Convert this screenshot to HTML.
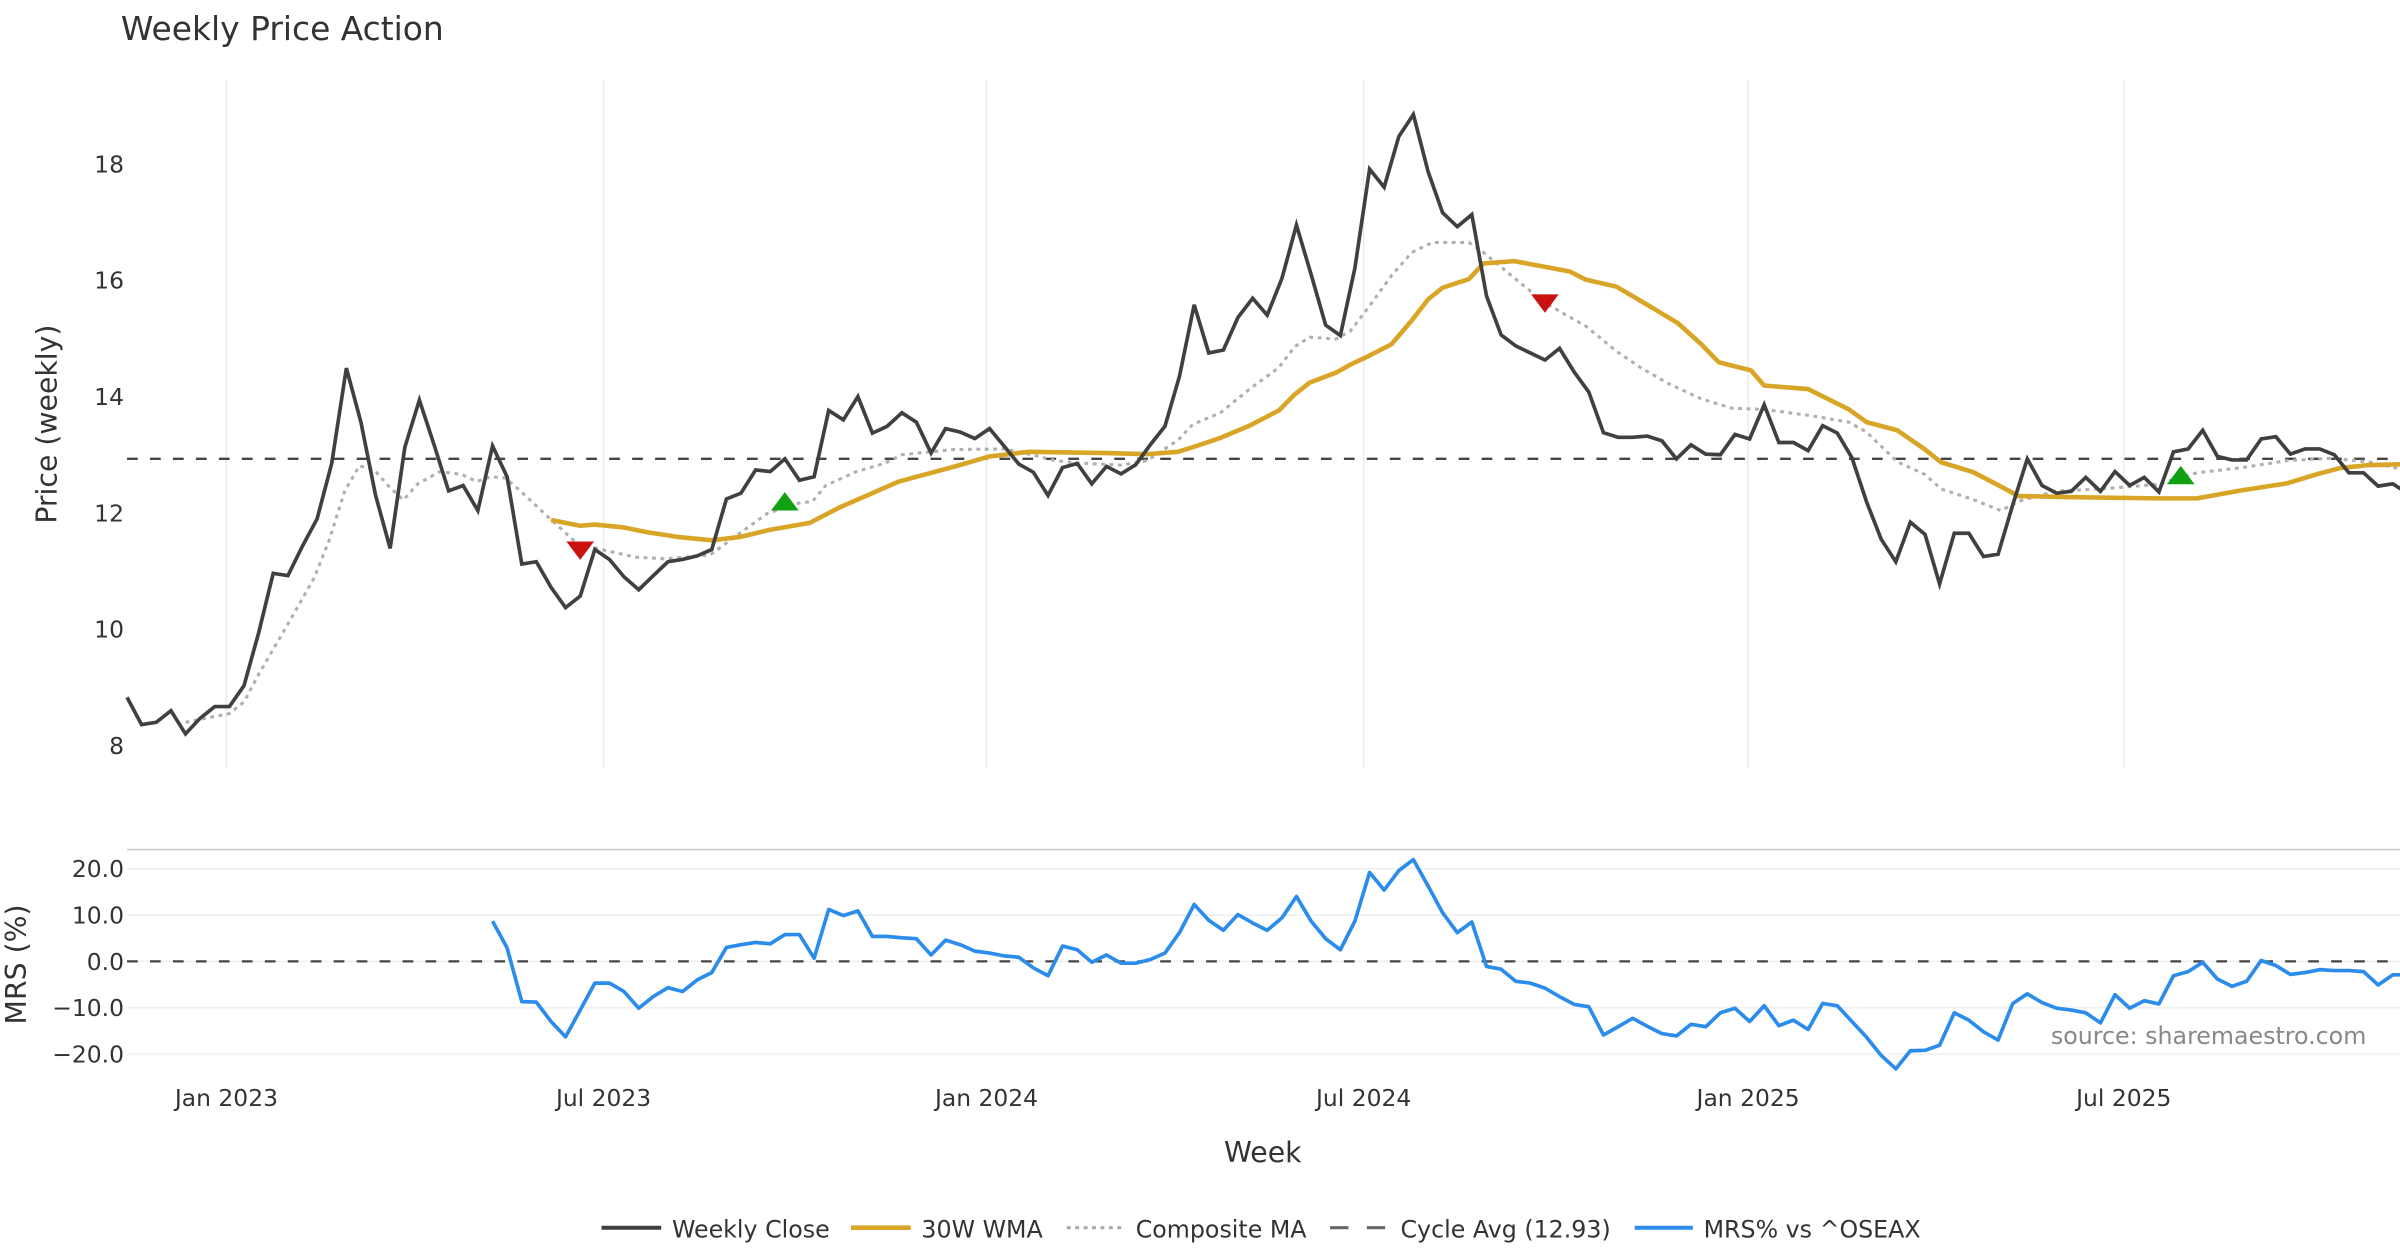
<!DOCTYPE html>
<html><head><meta charset="utf-8"><style>
html,body{margin:0;padding:0;background:#fff;}
svg{display:block;font-family:"DejaVu Sans","Liberation Sans",sans-serif;}
</style></head><body>
<svg id="chart" width="2400" height="1260" viewBox="0 0 1568 823" xmlns="http://www.w3.org/2000/svg">
<text x="79" y="26" font-size="21.5" fill="#333">Weekly Price Action</text>
<g id="grid"></g>
<g id="series"></g>
<text transform="translate(37,277) rotate(-90)" text-anchor="middle" font-size="18.5" fill="#333">Price (weekly)</text>
<text transform="translate(17,630) rotate(-90)" text-anchor="middle" font-size="18.5" fill="#333">MRS (%)</text>
<text x="825" y="759" text-anchor="middle" font-size="18.5" fill="#333">Week</text>
<text x="1546" y="682" text-anchor="end" font-size="15.5" fill="#888">source: sharemaestro.com</text>
<g id="legend">
 <line x1="393" y1="802" x2="432" y2="802" stroke="#404040" stroke-width="2.6"/>
 <text x="439" y="808.5" font-size="15.5" fill="#333">Weekly Close</text>
 <line x1="556" y1="802" x2="595" y2="802" stroke="#d9a527" stroke-width="3"/>
 <text x="602" y="808.5" font-size="15.5" fill="#333">30W WMA</text>
 <line x1="697" y1="802" x2="735" y2="802" stroke="#aaa" stroke-width="2" stroke-dasharray="2.5,3"/>
 <text x="742" y="808.5" font-size="15.5" fill="#333">Composite MA</text>
 <line x1="869" y1="802" x2="881" y2="802" stroke="#666" stroke-width="2"/>
 <line x1="893" y1="802" x2="905" y2="802" stroke="#666" stroke-width="2"/>
 <text x="915" y="808.5" font-size="15.5" fill="#333">Cycle Avg (12.93)</text>
 <line x1="1068" y1="802" x2="1106" y2="802" stroke="#2b8ceb" stroke-width="2.6"/>
 <text x="1113" y="808.5" font-size="15.5" fill="#333">MRS% vs ^OSEAX</text>
</g>
</svg>
<script>
const closeValues=[8.83,8.36,8.4,8.6,8.2,8.47,8.67,8.67,9.03,9.93,10.96,10.92,11.43,11.9,12.85,14.49,13.56,12.3,11.39,13.13,13.94,13.17,12.38,12.47,12.04,13.15,12.62,11.12,11.16,10.72,10.37,10.57,11.37,11.2,10.9,10.68,10.92,11.16,11.2,11.26,11.37,12.24,12.34,12.74,12.71,12.93,12.56,12.62,13.76,13.6,14.0,13.37,13.49,13.72,
13.56,13.03,13.45,13.39,13.28,13.45,13.15,12.84,12.7,12.3,12.78,12.85,12.5,12.8,12.67,12.83,13.17,13.49,14.35,15.58,14.75,14.8,15.36,15.69,15.4,16.03,16.95,16.1,15.23,15.05,16.21,17.91,17.6,18.47,18.85,17.87,17.16,16.92,17.13,15.73,15.06,14.87,14.75,14.63,14.83,14.42,14.08,13.38,13.3,13.3,13.32,13.24,12.93,13.17,13.01,
13.0,13.35,13.27,13.86,13.21,13.21,13.07,13.5,13.37,12.95,12.19,11.55,11.16,11.84,11.63,10.78,11.65,11.65,11.25,11.29,12.14,12.93,12.47,12.34,12.37,12.61,12.37,12.71,12.47,12.61,12.36,13.05,13.1,13.42,12.97,12.91,12.91,13.27,13.31,13.01,13.1,13.1,13.0,12.69,12.69,12.46,12.5,12.34];
const wmaWeeks=[29,31,32,34,35.5,37.6,40,42,44,46.7,48.8,51,52.8,54,56.5,59,61.7,67,69.8,71.9,72.9,74.8,76.7,78.8,79.9,80.9,82.7,83.7,84.8,86.5,87.9,89,90,91.8,92.8,94.9,96.6,98.7,99.8,101.9,104,106.1,107.7,108.9,111.1,112,115,117.8,119,121.1,123,124.1,126.3,128,129.4,133.1,138.9,141.6,144.7,147.8,149.9,151.4,153.3,156];
const wmaValues=[11.88,11.78,11.8,11.75,11.67,11.59,11.53,11.59,11.71,11.83,12.1,12.34,12.54,12.62,12.79,12.97,13.05,13.03,13.01,13.05,13.13,13.29,13.49,13.76,14.04,14.24,14.41,14.55,14.68,14.9,15.31,15.67,15.87,16.02,16.29,16.33,16.25,16.15,16.01,15.89,15.58,15.26,14.9,14.59,14.45,14.19,14.13,13.78,13.56,13.42,13.09,12.87,12.7,12.48,12.29,12.27,12.25,12.25,12.39,12.51,12.67,12.77,12.82,12.84,12.81];
const compWeeks=[4,7,8,9,11,12.8,13.8,14.9,15.9,16.9,17.9,18.9,19.9,21.4,22.9,23.9,24.9,25.9,26.9,28.9,30.8,32.8,34.8,36.8,39.9,41.8,43.8,45.8,46.9,47.8,49.9,51.8,53,56.5,60,61.4,63.5,64.9,68,69.8,71.9,72.9,74.8,76.7,78.8,79.9,80.9,82.7,83.7,84.8,86.5,87.9,89.3,91.8,92.8,94.9,97,98.4,99.8,101.9,103.6,105.4,107.7,109.8,112,115,117.8,119,121.1,123,124.1,126.3,128.2,129.4,131.9,135.5,138.9,141.6,144.7,147.8,150.8,153.3,156];
const compValues=[8.4,8.55,8.75,9.22,10.09,10.88,11.51,12.38,12.81,12.74,12.46,12.22,12.5,12.71,12.66,12.54,12.62,12.6,12.38,11.91,11.47,11.35,11.24,11.21,11.28,11.63,11.99,12.16,12.2,12.47,12.71,12.85,13.0,13.09,13.1,13.03,12.9,12.86,12.82,12.9,13.25,13.52,13.72,14.11,14.5,14.86,15.02,14.99,15.13,15.49,16.08,16.48,16.65,16.65,16.48,16.04,15.61,15.41,15.21,14.78,14.49,14.23,13.96,13.8,13.78,13.68,13.56,13.39,12.88,12.66,12.41,12.23,12.04,12.2,12.37,12.42,12.49,12.69,12.78,12.9,12.94,12.88,12.73];
const signalWeeks=[31,45,97,140.5];
const signalValues=[11.35,12.2,15.6,12.65];
const signalTypes=["sell","buy","sell","buy"];
const cycleAvg=12.93;
const mrsStart=25;
const mrsValues=[8.7,2.9,-8.7,-8.8,-13,-16.3,-10.5,-4.7,-4.7,-6.5,-10.1,-7.6,-5.7,-6.5,-4,-2.4,3,3.6,4.1,3.8,5.8,5.8,0.7,11.2,9.9,10.9,5.4,5.4,5.1,4.9,1.4,4.6,3.6,2.2,1.8,1.2,0.9,-1.4,-3.1,3.3,2.5,-0.2,1.4,-0.4,-0.4,0.4,1.8,6.2,12.3,8.9,6.7,10.1,
8.3,6.7,9.4,14,8.7,4.9,2.5,8.7,19.2,15.4,19.6,22,16.3,10.5,6.2,8.5,-1.1,-1.7,-4.3,-4.7,-5.8,-7.6,-9.3,-9.8,-15.9,-14.1,-12.3,-14,-15.6,-16.1,-13.6,-14.1,-11.1,-10.1,-13,-9.6,-13.9,-12.7,-14.7,-9.1,-9.6,-13,-16.4,-20.3,-23.2,-19.3,-19.2,-18.1,-11.1,-12.7,-15.2,-17,-9.1,-7,-8.9,-10.1,-10.5,-11.1,-13.3,-7.2,-10.1,-8.5,-9.2,-3.1,-2.2,-0.2,-3.8,-5.4,-4.3,0.2,-0.9,-2.8,-2.4,-1.8,-2,-2,-2.2,-5.1,-2.9,-2.9];
const priceTicks=[8,10,12,14,16,18];
const mrsTicks=[20,10,0,-10,-20];
const mrsTickLabels=["20.0","10.0","0.0","\u221210.0","\u221220.0"];
const dateTickWeeks=[6.8,32.6,58.8,84.6,110.9,136.6];
const dateTickLabels=["Jan 2023","Jul 2023","Jan 2024","Jul 2024","Jan 2025","Jul 2025"];

const NS="http://www.w3.org/2000/svg";
const X0=83,XW=9.55;
function xs(i){return X0+i*XW;}
function yp(v){return 487-(v-8)*38;}
function ym(v){return 628-v*3.025;}
function mk(tag,attrs,parent){const e=document.createElementNS(NS,tag);for(const k in attrs)e.setAttribute(k,attrs[k]);parent.appendChild(e);return e;}
const gridG=document.getElementById('grid'),ser=document.getElementById('series');

dateTickWeeks.forEach((w,k)=>{
  const l=mk('line',{x1:xs(w),x2:xs(w),y1:52,y2:502,stroke:'#ececec','stroke-width':1},gridG);
  
  
  const t=mk('text',{x:xs(w),y:722.5,'text-anchor':'middle','font-size':'15.3',fill:'#333'},gridG);
  t.textContent=dateTickLabels[k];
  
  
});
priceTicks.forEach(v=>{
  const t=mk('text',{x:81,y:yp(v)+5.5,'text-anchor':'end','font-size':'15.3',fill:'#333'},gridG);
  t.textContent=String(v);
  
  
});
const panelTop=mk('line',{x1:83,x2:1568,y1:555,y2:555,stroke:'#ccc','stroke-width':1},gridG);


mrsTicks.forEach((v,k)=>{
  const l=mk('line',{x1:83,x2:1568,y1:ym(v),y2:ym(v),stroke:'#eef0f2','stroke-width':1},gridG);
  
  
  const t=mk('text',{x:81,y:ym(v)+5.5,'text-anchor':'end','font-size':'15.3',fill:'#333'},gridG);
  t.textContent=mrsTickLabels[k];
  
  
});

function pts(ws,vs,f){return vs.map((v,k)=>xs(ws[k]).toFixed(1)+','+f(v).toFixed(1)).join(' ');}
const cyc=mk('line',{x1:83,x2:1568,y1:yp(cycleAvg),y2:yp(cycleAvg),stroke:'#444','stroke-width':1.6,'stroke-dasharray':'7,8'},ser);


const comp=mk('polyline',{points:pts(compWeeks,compValues,yp),fill:'none',stroke:'#b0b0b0','stroke-width':2,'stroke-dasharray':'2.5,3'},ser);


const wma=mk('polyline',{points:pts(wmaWeeks,wmaValues,yp),fill:'none',stroke:'#d9a527','stroke-width':3,'stroke-linejoin':'round'},ser);


const cw=closeValues.map((v,i)=>i);
const cl=mk('polyline',{points:pts(cw,closeValues,yp),fill:'none',stroke:'#404040','stroke-width':2.4,'stroke-linejoin':'miter'},ser);


signalWeeks.forEach((w,k)=>{
  const x=xs(w),y=yp(signalValues[k]);
  const p=signalTypes[k]==='sell'?`${x-9},${y-6} ${x+9},${y-6} ${x},${y+6}`:`${x-9},${y+6} ${x+9},${y+6} ${x},${y-6}`;
  const m=mk('polygon',{points:p,fill:signalTypes[k]==='sell'?'#cc1111':'#11a011'},ser);
  
  
});
const z=mk('line',{x1:83,x2:1568,y1:ym(0),y2:ym(0),stroke:'#444','stroke-width':1.4,'stroke-dasharray':'7,8'},ser);


const mw=mrsValues.map((v,i)=>i+mrsStart);
const mrs=mk('polyline',{points:pts(mw,mrsValues,ym),fill:'none',stroke:'#2b8ceb','stroke-width':2.4,'stroke-linejoin':'round'},ser);


</script>
</body></html>
